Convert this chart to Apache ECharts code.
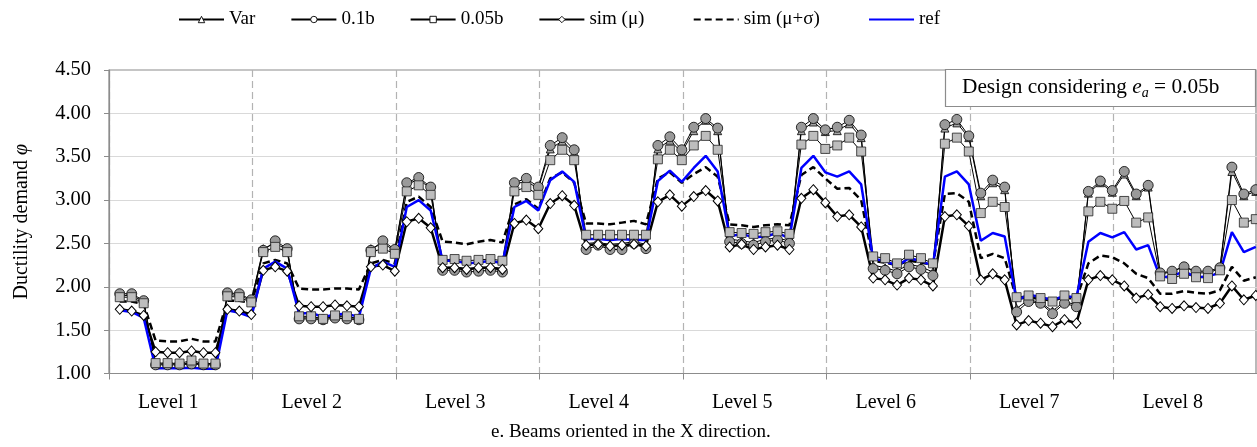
<!DOCTYPE html>
<html><head><meta charset="utf-8">
<script src="https://cdn.jsdelivr.net/npm/echarts@6/dist/echarts.min.js"></script>
<style>html,body{margin:0;padding:0;background:#fff}#c{width:1257px;height:447px}</style>
</head><body><div id="c"></div>
<script>
const FONT = '"Liberation Serif","Times New Roman",serif';
const levels = ['Level 1','Level 2','Level 3','Level 4','Level 5','Level 6','Level 7','Level 8'];
const yTicks = [1.00,1.50,2.00,2.50,3.00,3.50,4.00,4.50];

const varVals = [
 1.90,1.90,1.83, 1.11,1.11,1.11,1.12,1.11,1.11, 1.91,1.90,1.84,
 2.44,2.50,2.43, 1.65,1.65,1.63,1.66,1.65,1.63, 2.44,2.50,2.42,
 3.18,3.24,3.13, 2.22,2.23,2.21,2.22,2.23,2.21, 3.18,3.22,3.13,
 3.59,3.68,3.55, 2.50,2.51,2.49,2.50,2.52,2.49, 3.59,3.69,3.55,
 3.80,3.92,3.80, 2.55,2.53,2.51,2.55,2.56,2.53, 3.80,3.90,3.79,
 3.80,3.88,3.72, 2.25,2.22,2.18,2.26,2.23,2.17, 3.83,3.89,3.72,
 3.05,3.20,3.12, 1.75,1.85,1.82,1.72,1.83,1.79, 3.08,3.20,3.09,
 3.30,3.05,3.15, 2.15,2.17,2.24,2.16,2.16,2.21, 3.33,3.05,3.10
];
const b01Vals = [
 1.92,1.92,1.84, 1.10,1.10,1.10,1.11,1.10,1.10, 1.93,1.92,1.85,
 2.42,2.53,2.44, 1.63,1.63,1.62,1.64,1.63,1.62, 2.42,2.53,2.43,
 3.20,3.26,3.15, 2.19,2.19,2.17,2.18,2.19,2.17, 3.20,3.25,3.15,
 3.63,3.72,3.58, 2.43,2.48,2.43,2.43,2.50,2.44, 3.63,3.73,3.58,
 3.84,3.94,3.83, 2.52,2.50,2.48,2.52,2.54,2.50, 3.84,3.94,3.81,
 3.84,3.92,3.75, 2.21,2.19,2.15,2.23,2.20,2.13, 3.87,3.93,3.74,
 3.08,3.23,3.15, 1.71,1.83,1.81,1.69,1.81,1.77, 3.10,3.22,3.11,
 3.33,3.07,3.17, 2.16,2.18,2.23,2.18,2.18,2.22, 3.38,3.07,3.12
];
const b005Vals = [
 1.88,1.88,1.81, 1.12,1.12,1.115,1.15,1.115,1.115, 1.89,1.88,1.82,
 2.40,2.46,2.40, 1.66,1.66,1.63,1.67,1.66,1.63, 2.40,2.44,2.38,
 3.10,3.17,3.06, 2.31,2.32,2.30,2.31,2.32,2.30, 3.10,3.15,3.06,
 3.46,3.58,3.46, 2.60,2.60,2.60,2.60,2.60,2.60, 3.47,3.58,3.46,
 3.63,3.74,3.58, 2.63,2.62,2.61,2.63,2.64,2.61, 3.64,3.74,3.59,
 3.63,3.72,3.56, 2.35,2.33,2.27,2.37,2.33,2.27, 3.65,3.72,3.56,
 2.85,2.98,2.92, 1.88,1.90,1.87,1.83,1.90,1.87, 2.87,2.98,2.90,
 2.99,2.74,2.80, 2.12,2.09,2.15,2.11,2.10,2.19, 3.00,2.74,2.78
];
const simMuVals = [
 1.74,1.72,1.67, 1.25,1.24,1.24,1.26,1.24,1.24, 1.74,1.72,1.68,
 2.19,2.23,2.18, 1.78,1.77,1.77,1.79,1.78,1.77, 2.23,2.25,2.18,
 2.75,2.79,2.68, 2.22,2.22,2.20,2.22,2.22,2.20, 2.73,2.77,2.67,
 2.96,3.05,2.94, 2.48,2.49,2.47,2.48,2.49,2.47, 2.98,3.06,2.93,
 3.04,3.11,2.99, 2.46,2.49,2.43,2.46,2.48,2.43, 3.02,3.12,2.97,
 2.81,2.83,2.69, 2.10,2.08,2.02,2.10,2.08,2.01, 2.81,2.83,2.70,
 2.08,2.15,2.08, 1.56,1.61,1.58,1.54,1.62,1.58, 2.08,2.13,2.08,
 2.01,1.87,1.91, 1.77,1.75,1.78,1.76,1.75,1.81, 2.01,1.85,1.90
];
const simMuSigVals = [
 1.83,1.83,1.80, 1.38,1.37,1.37,1.40,1.37,1.37, 1.84,1.84,1.81,
 2.27,2.31,2.27, 1.98,1.97,1.97,1.98,1.98,1.97, 2.27,2.31,2.27,
 2.98,3.04,2.92, 2.52,2.51,2.49,2.52,2.54,2.51, 2.95,3.01,2.90,
 3.25,3.32,3.20, 2.73,2.73,2.72,2.74,2.76,2.72, 3.25,3.32,3.20,
 3.30,3.38,3.27, 2.72,2.71,2.69,2.71,2.72,2.71, 3.29,3.38,3.25,
 3.13,3.14,3.00, 2.30,2.28,2.25,2.30,2.28,2.25, 3.07,3.08,2.98,
 2.33,2.38,2.33, 1.86,1.88,1.86,1.84,1.88,1.86, 2.27,2.36,2.34,
 2.27,2.15,2.10, 1.92,1.92,1.95,1.93,1.92,1.96, 2.23,2.07,2.11
];
const refVals = [
 1.73,1.71,1.64, 1.06,1.06,1.06,1.065,1.055,1.055, 1.73,1.70,1.65,
 2.21,2.29,2.21, 1.69,1.70,1.65,1.68,1.69,1.65, 2.21,2.29,2.23,
 2.92,3.00,2.88, 2.30,2.30,2.27,2.28,2.30,2.27, 2.92,2.99,2.88,
 3.23,3.33,3.21, 2.55,2.55,2.54,2.55,2.54,2.54, 3.22,3.34,3.21,
 3.37,3.51,3.33, 2.58,2.61,2.57,2.58,2.62,2.56, 3.37,3.51,3.32,
 3.27,3.33,3.18, 2.32,2.30,2.24,2.33,2.30,2.24, 3.27,3.33,3.18,
 2.53,2.62,2.58, 1.84,1.91,1.88,1.85,1.89,1.88, 2.52,2.62,2.57,
 2.63,2.43,2.48, 2.11,2.12,2.18,2.11,2.12,2.16, 2.63,2.40,2.46
];

const pts = vals => vals.map((v, i) => [i, v]);
const thin = {color: '#000', width: 1};
const hollow = {color: '#fff', borderColor: '#000', borderWidth: 0.9};
const noMark = {color: 'rgba(0,0,0,0)', borderWidth: 0, opacity: 0};
const widen = {'sim (μ)': '\u2002\u2009', 'sim (μ+σ)': '\u2002\u2009'};

const chart = echarts.init(document.getElementById('c'), null, {renderer: 'canvas'});
chart.setOption({
  animation: false,
  textStyle: {fontFamily: FONT, color: '#000'},
  title: [
    {
      text: 'Design considering {i|e}{s|a} = 0.05b',
      left: 945, top: 69,
      padding: [6, 36, 7, 17],
      borderColor: '#8c8c8c', borderWidth: 1.2, backgroundColor: '#fff',
      textStyle: {fontFamily: FONT, fontSize: 21.3, fontWeight: 'normal', color: '#000', lineHeight: 25,
        rich: {
          i: {fontFamily: FONT, fontSize: 21.3, fontStyle: 'italic', color: '#000', lineHeight: 25},
          s: {fontFamily: FONT, fontSize: 14, fontStyle: 'italic', color: '#000', lineHeight: 14, verticalAlign: 'bottom'}
        }}
    },
    {
      text: 'e. Beams oriented in the X direction.',
      left: 491, top: 423, padding: 0,
      textStyle: {fontFamily: FONT, fontSize: 19, fontWeight: 'normal', color: '#000'}
    }
  ],
  legend: {
    left: 178, top: 10, padding: 0, itemWidth: 45, itemHeight: 8, itemGap: 35, selectedMode: false,
    textStyle: {fontFamily: FONT, fontSize: 19, color: '#000'},
    formatter: name => name + (widen[name] || ''),
    data: [
      {name: 'Var', itemStyle: hollow},
      {name: '0.1b', itemStyle: hollow},
      {name: '0.05b', itemStyle: hollow},
      {name: 'sim (μ)', itemStyle: hollow},
      {name: 'sim (μ+σ)', itemStyle: noMark},
      {name: 'ref', itemStyle: noMark}
    ]
  },
  grid: [
    {left: 109, right: -3, top: 70, bottom: 73.5, containLabel: false},
    {left: 109, right: 1, top: 70, bottom: 73.5, show: true, borderColor: '#8c8c8c', borderWidth: 1.2, backgroundColor: 'transparent'}
  ],
  xAxis: [
    {type: 'value', gridIndex: 0, min: -0.9, max: 95.1, show: false},
    {
      type: 'category', gridIndex: 0, data: levels, position: 'bottom', boundaryGap: true,
      axisLine: {onZero: false, lineStyle: {color: '#8c8c8c', width: 1.2}},
      axisTick: {show: true, length: 6, interval: 0, lineStyle: {color: '#8c8c8c'}},
      axisLabel: {fontFamily: FONT, fontSize: 20, color: '#000', margin: 19, interval: 0, padding: [0, 25, 0, 0]},
      splitLine: {show: true, interval: 0, lineStyle: {color: '#b3b3b3', type: [7, 4], width: 1.2}}
    }
  ],
  yAxis: [{
    type: 'value', gridIndex: 0, min: 1, max: 4.5, interval: 0.5,
    name: 'Ductility demand {i|φ}', nameLocation: 'middle', nameGap: 77, nameRotate: 90,
    nameTextStyle: {fontFamily: FONT, fontSize: 20, color: '#000',
      rich: {i: {fontFamily: FONT, fontSize: 20, fontStyle: 'italic', color: '#000'}}},
    axisLine: {show: true, onZero: false, lineStyle: {color: '#8c8c8c', width: 1.2}},
    axisTick: {show: true, length: 5, lineStyle: {color: '#8c8c8c'}},
    axisLabel: {fontFamily: FONT, fontSize: 20.5, color: '#000', margin: 18,
      formatter: v => (yTicks.indexOf(v) >= 0 ? v.toFixed(2) : '')},
    splitLine: {show: true, showMaxLine: false, lineStyle: {color: '#d9d9d9', width: 1.2}}
  }],
  series: [
    {name: 'Var', type: 'line', data: pts(varVals), symbol: 'triangle', symbolSize: 8,
     lineStyle: thin, itemStyle: {color: '#a6a6a6', borderColor: '#000', borderWidth: 0.8}},
    {name: '0.1b', type: 'line', data: pts(b01Vals), symbol: 'circle', symbolSize: 10,
     lineStyle: thin, itemStyle: {color: '#9a9a9a', borderColor: '#000', borderWidth: 0.8}},
    {name: '0.05b', type: 'line', data: pts(b005Vals), symbol: 'rect', symbolSize: 9,
     lineStyle: thin, itemStyle: {color: '#bdbdbd', borderColor: '#222', borderWidth: 0.8}},
    {name: 'sim (μ)', type: 'line', data: pts(simMuVals), symbol: 'diamond', symbolSize: [9, 10],
     lineStyle: {color: '#000', width: 2.5}, itemStyle: {color: '#fff', borderColor: '#000', borderWidth: 1}},
    {name: 'sim (μ+σ)', type: 'line', data: pts(simMuSigVals), symbol: 'none',
     lineStyle: {color: '#000', width: 2.5, type: [7, 4]}, itemStyle: {color: '#000'}},
    {name: 'ref', type: 'line', data: pts(refVals), symbol: 'none',
     lineStyle: {color: '#0000ff', width: 2.5}, itemStyle: {color: '#0000ff'}}
  ]
});
</script></body></html>
